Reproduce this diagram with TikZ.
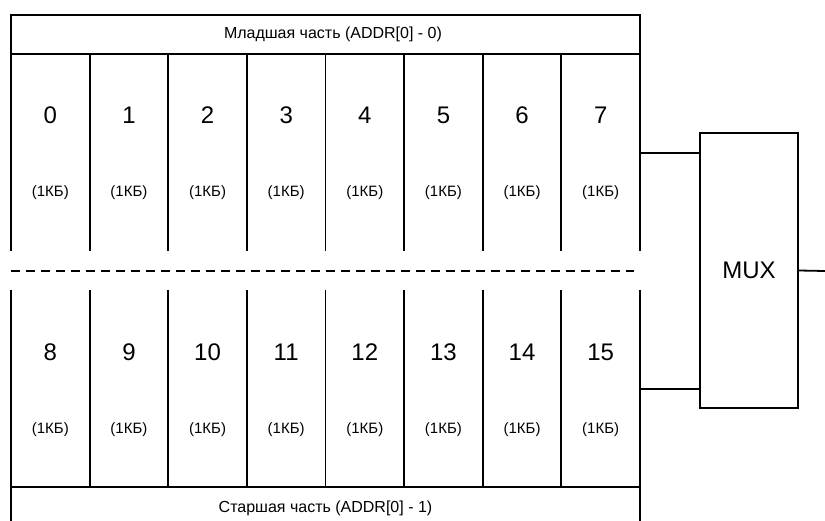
\documentclass[tikz,border=0pt]{standalone}
\usepackage{fontspec}
\setmainfont{Liberation Sans}
\begin{document}
\begin{tikzpicture}[x=1pt,y=-1pt,line width=1.8pt,
  num/.style={font=\fontsize{24}{24}\selectfont,inner sep=0pt},
  kb/.style={font=\fontsize{15}{15}\selectfont,inner sep=0pt},
  hdr/.style={font=\fontsize{16}{16}\selectfont,inner sep=0pt},
  muxbox/.style={draw,line width=1.4pt,minimum width=98pt,minimum height=275pt,inner sep=0pt,font=\fontsize{24}{24}\selectfont},
  sep/.style={dashed,dash pattern=on 9pt off 6pt}]
\useasboundingbox (0,0) rectangle (825,521);
% outer frame and header rows
\draw (11,251) -- (11,15) -- (640,15) -- (640,251);
\draw (11,290) -- (11,521);
\draw (640,290) -- (640,521);
\draw (11,54) -- (640,54);
\draw (11,487) -- (640,487);
\node[hdr] (top) at (333,34) {Младшая часть (ADDR[0] - 0)};
\node[hdr] (bot) at (325.5,508) {Старшая часть (ADDR[0] - 1)};
% inner column separators
\foreach \i in {1,...,7}{
  \draw ({11+\i*78.625},54) -- ({11+\i*78.625},251);
  \draw ({11+\i*78.625},290) -- ({11+\i*78.625},487);
}
% dashed separator
\coordinate (dl) at (11,271);
\coordinate (dr) at (634,271);
\draw[sep] (dl) -- (dr);
% cells
\foreach \i in {0,...,7}{
  \pgfmathtruncatemacro{\j}{\i+8}
  \node[num] (n\i) at ({11+(\i+0.5)*78.625},115) {\i};
  \node[kb] (k\i) at ({11+(\i+0.5)*78.625},193) {(1КБ)};
  \node[num] (n\j) at ({11+(\i+0.5)*78.625},352) {\j};
  \node[kb] (k\j) at ({11+(\i+0.5)*78.625},430) {(1КБ)};
}
% MUX
\node[muxbox] (mux) at (749,270.5) {MUX};
\coordinate (a) at (640,153);
\coordinate (b) at (640,389);
\coordinate (out) at (825,271);
\draw (a) -- (a -| mux.west);
\draw (b) -- (b -| mux.west);
\draw (mux.east) -- (out);
\end{tikzpicture}
\end{document}
